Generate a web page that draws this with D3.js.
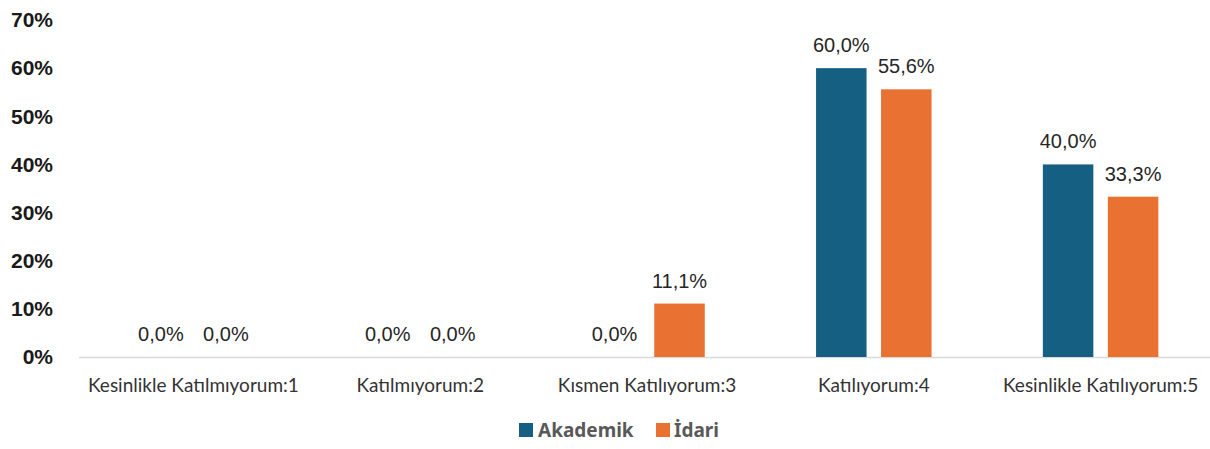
<!DOCTYPE html>
<html>
<head>
<meta charset="utf-8">
<script src="https://cdn.jsdelivr.net/npm/d3@7"></script>
<style>
  body { margin: 0; background: #fff; }
  svg { display: block; }
</style>
</head>
<body>
<div id="chart"></div>
<script>
// chart data
const categories = ['Kesinlikle Katılmıyorum:1', 'Katılmıyorum:2', 'Kısmen Katılıyorum:3', 'Katılıyorum:4', 'Kesinlikle Katılıyorum:5'];
const seriesNames = ['Akademik', 'İdari'];
const akademik = [0.0, 0.0, 0.0, 60.0, 40.0];
const idari = [0.0, 0.0, 11.1, 55.6, 33.3];
const yTicks = [0, 10, 20, 30, 40, 50, 60, 70];
const colors = ['#156082', '#E97132'];

const width = 1210, height = 449;
const svg = d3.select('#chart').append('svg')
  .attr('width', width)
  .attr('height', height);

const x = d3.scaleBand().domain(categories).range([80, 1214]).paddingInner(0).paddingOuter(0);
const y = d3.scaleLinear().domain([0, 70]).range([357, 20]);

const barW = 50.5;
const offsets = [-32.5, 32.5];
const series = [akademik, idari];

// y axis labels (no line)
svg.append('g')
  .selectAll('text')
  .data(yTicks)
  .enter()
  .append('text')
  .attr('x', 53)
  .attr('y', d => y(d))
  .attr('dy', '0.35em')
  .attr('text-anchor', 'end')
  .style('font-family', '"Liberation Sans", Arial, sans-serif')
  .style('font-weight', 'bold')
  .style('font-size', '21px')
  .style('fill', '#1a1a1a')
  .text(d => d + '%');

// baseline
svg.append('line')
  .attr('x1', 79).attr('x2', 1214)
  .attr('y1', y(0) + 0.5).attr('y2', y(0) + 0.5)
  .style('stroke', '#d9d9d9')
  .style('stroke-width', 1.5);

// bars + labels
series.forEach((vals, si) => {
  const g = svg.append('g');
  g.selectAll('rect')
    .data(vals)
    .enter()
    .append('rect')
    .attr('x', (d, i) => x(categories[i]) + x.bandwidth() / 2 + offsets[si] - barW / 2)
    .attr('y', d => y(d))
    .attr('width', barW)
    .attr('height', d => y(0) - y(d))
    .style('fill', colors[si]);

  g.selectAll('text')
    .data(vals)
    .enter()
    .append('text')
    .attr('x', (d, i) => x(categories[i]) + x.bandwidth() / 2 + offsets[si])
    .attr('y', d => y(d) - 16)
    .attr('text-anchor', 'middle')
    .style('font-family', '"Liberation Sans", Arial, sans-serif')
    .style('font-size', '20px')
    .style('fill', '#262626')
    .text(d => d.toFixed(1).replace('.', ',') + '%');
});

// category labels
svg.append('g')
  .selectAll('text')
  .data(categories)
  .enter()
  .append('text')
  .attr('x', d => x(d) + x.bandwidth() / 2)
  .attr('y', 392)
  .attr('text-anchor', 'middle')
  .style('font-family', 'Lato, sans-serif')
  .style('font-size', '19px')
  .style('fill', '#333333')
  .text(d => d);

// legend
const legendItems = [{ name: seriesNames[0], sx: 519, tx: 538 }, { name: seriesNames[1], sx: 656, tx: 674 }];
const legend = svg.append('g');
legendItems.forEach((it, i) => {
  legend.append('rect')
    .attr('x', it.sx).attr('y', 423)
    .attr('width', 14).attr('height', 14)
    .style('fill', colors[i]);
  legend.append('text')
    .attr('x', it.tx).attr('y', 437)
    .style('font-family', '"Noto Sans", sans-serif')
    .style('font-weight', 'bold')
    .style('font-size', '19px')
    .style('fill', '#595959')
    .text(it.name);
});
</script>
</body>
</html>
